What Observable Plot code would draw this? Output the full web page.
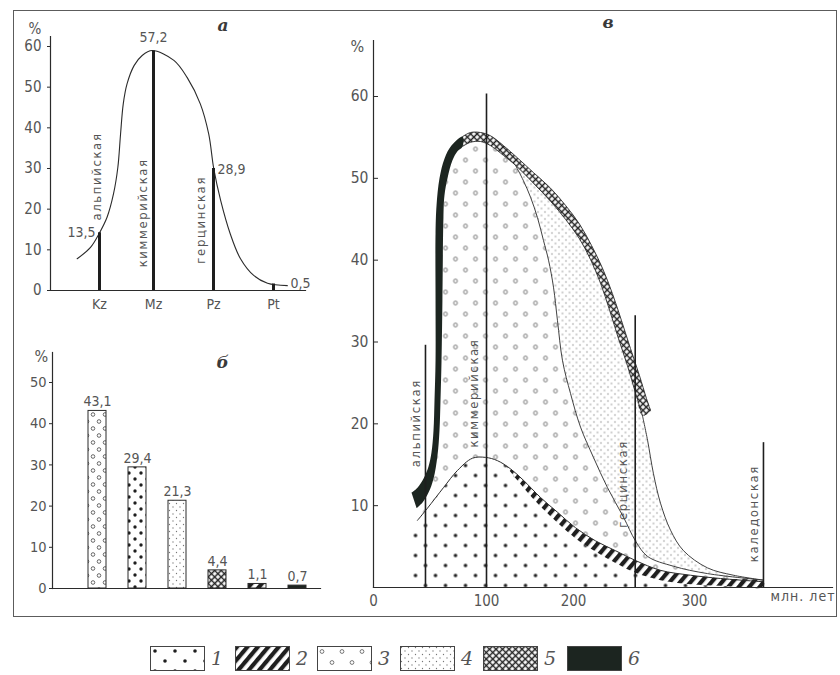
<!DOCTYPE html>
<html><head><meta charset="utf-8">
<script src="https://cdn.jsdelivr.net/npm/d3@7"></script>
<script src="https://cdn.jsdelivr.net/npm/@observablehq/plot@0.6"></script>
<style>
html,body{margin:0;padding:0;background:#fff;}
#wrap{position:relative;width:840px;height:675px;overflow:hidden;background:#fff;}
#frame{position:absolute;left:13px;top:10px;width:824px;height:607px;border:1.5px solid #5c5c5c;box-sizing:border-box;pointer-events:none;}
.panel{position:absolute;}
.sw{position:absolute;top:646px;}
.num{position:absolute;top:646px;font-family:"DejaVu Serif","Liberation Serif",serif;font-style:italic;font-size:19px;line-height:25px;color:#555;}
</style></head>
<body>
<svg width="0" height="0" style="position:absolute;left:0;top:0" aria-hidden="true">
<defs>
<pattern id="p1" patternUnits="userSpaceOnUse" width="20" height="20">
<rect width="20" height="20" fill="#fff"/>
<circle cx="5" cy="5" r="1.8" fill="#1f1f1f"/>
<circle cx="15" cy="15" r="1.8" fill="#1f1f1f"/>
</pattern>
<pattern id="q1" patternUnits="userSpaceOnUse" width="12" height="12">
<rect width="12" height="12" fill="#fff"/>
<circle cx="3" cy="3" r="1.7" fill="#1f1f1f"/>
<circle cx="9" cy="9" r="1.7" fill="#1f1f1f"/>
</pattern>
<pattern id="p2" patternUnits="userSpaceOnUse" width="8" height="8" patternTransform="rotate(40)">
<rect width="8" height="8" fill="#fff"/>
<rect width="4.2" height="8" fill="#1f1f1f"/>
</pattern>
<pattern id="p3" patternUnits="userSpaceOnUse" width="20" height="22">
<rect width="20" height="22" fill="#fff"/>
<circle cx="5" cy="5.5" r="1.9" fill="none" stroke="#666" stroke-width="0.9"/>
<circle cx="15" cy="16.5" r="1.9" fill="none" stroke="#666" stroke-width="0.9"/>
</pattern>
<pattern id="q3" patternUnits="userSpaceOnUse" width="12" height="14">
<rect width="12" height="14" fill="#fff"/>
<circle cx="3" cy="3.5" r="1.8" fill="none" stroke="#555" stroke-width="0.9"/>
<circle cx="9" cy="10.5" r="1.8" fill="none" stroke="#555" stroke-width="0.9"/>
</pattern>
<pattern id="p4" patternUnits="userSpaceOnUse" width="7" height="7">
<rect width="7" height="7" fill="#fff"/>
<circle cx="1.5" cy="1.5" r="0.65" fill="#777"/>
<circle cx="5" cy="5" r="0.65" fill="#777"/>
</pattern>
<pattern id="p5" patternUnits="userSpaceOnUse" width="4.6" height="4.6" patternTransform="rotate(45)">
<rect width="4.6" height="4.6" fill="#fff"/>
<path d="M0,2.3H4.6M2.3,0V4.6" stroke="#222" stroke-width="1.5"/>
</pattern>
<pattern id="p6" patternUnits="userSpaceOnUse" width="10" height="10">
<rect width="10" height="10" fill="#1c2520"/>
</pattern>
</defs></svg>
<div id="wrap">
  <div id="pa" class="panel" style="left:0;top:0"></div>
  <div id="pb" class="panel" style="left:0;top:320px"></div>
  <div id="pc" class="panel" style="left:340px;top:0"></div>
  <div id="legend"></div>
  <div id="frame"></div>
</div>
<script>
// ---------------- data ----------------
// Panel а: share by era
const eraPos = [1, 2, 3, 4];
const eraNames = ["Kz", "Mz", "Pz", "Pt"];
const eraBarTop = [14.2, 58.9, 30.0, 1.6];          // bar heights as drawn
const eraValueText = ["13,5", "57,2", "28,9", "0,5"]; // printed values
const curveAx = [0.615, 0.845, 0.99, 1.14, 1.26, 1.34, 1.39, 1.44, 1.51, 1.64, 1.79, 1.976, 2.34, 2.56, 2.78, 2.92, 3.005, 3.12, 3.28, 3.45, 3.67, 3.90, 4.23];
const curveAy = [7.8, 10.6, 13.9, 18.0, 23.8, 30.3, 38.5, 45.9, 50.8, 55.3, 57.8, 59.0, 56.6, 52.4, 45.9, 38.5, 29.9, 22.1, 13.9, 7.8, 3.7, 1.8, 1.2];
const orogenyA = ["альпийская", "киммерийская", "герцинская"];

// Panel б: shares by legend category
const shareKeys = [3, 1, 4, 5, 2, 6];
const shareValues = [43.1, 29.4, 21.3, 4.4, 1.1, 0.7];
const shareText = ["43,1", "29,4", "21,3", "4,4", "1,1", "0,7"];

// Panel в: region boundaries [млн. лет, %]
const orogenyB = ["альпийская", "киммерийская", "герцинская", "каледонская"];
const orogenyAge = [46, 100, 251, 357];
const orogenyTop = [29.6, 60.3, 33.2, 17.7];
const outer6 = [[33.6,11.6],[38.9,12.2],[44.2,13.3],[48.7,14.8],[51.3,16.5],[53.1,19.2],[54.0,22.9],[54.9,27.7],[54.9,35.1],[54.9,43.3],[55.8,46.7],[58.4,50.0],[62.8,52.4],[69.0,54.0],[78.8,55.1]];
const inner6 = [[38.1,9.7],[43.4,10.4],[48.7,11.6],[53.1,13.3],[56.6,16.1],[58.4,19.2],[59.3,22.9],[60.2,27.7],[61.0,35.1],[61.9,45.2],[62.8,47.9],[65.5,50.0],[69.9,52.2],[74.3,53.3],[78.8,53.9]];
const outer5 = [[78.8,55.1],[85.8,55.6],[94.7,55.6],[104.6,55.2],[119.5,54.0],[135.6,52.5],[154.0,50.7],[173.6,48.8],[190.8,46.7],[205.0,44.4],[214.9,41.8],[224.0,39.0],[232.2,35.9],[239.7,32.6],[247.1,29.2],[254.5,25.9],[260.3,23.1],[263.6,21.6]];
const inner5 = [[78.8,53.9],[85.8,54.4],[94.7,54.5],[104.6,54.0],[119.5,52.8],[133.3,51.6],[154.0,49.4],[173.6,47.2],[190.8,45.0],[205.0,42.6],[214.0,40.1],[222.3,37.2],[229.8,33.9],[237.2,30.4],[244.6,27.1],[251.2,23.8],[257.0,21.0]];
const c3 = [[133.3,51.6],[142.5,49.7],[150.6,47.7],[158.6,45.2],[165.5,42.4],[171.3,40.0],[177.0,36.7],[181.6,32.6],[187.4,27.7],[196.6,23.7],[205.8,19.6],[216.5,15.9],[228.1,12.2],[241.3,8.6],[251.2,5.7],[261.2,3.8],[282.6,2.6],[310.7,1.7],[357.0,0.9]];
const c4 = [[257.0,21.0],[261.2,18.0],[266.1,13.9],[271.9,10.3],[280.2,7.0],[290.9,4.5],[310.7,2.4],[332.2,1.5],[357.0,0.9]];
const l1top = [[38.9,8.2],[47.8,9.7],[61.9,12.2],[74.3,14.3],[87.6,15.8],[99.1,15.9],[112.6,15.5],[127.6,14.5],[142.5,13.1],[162.1,11.0],[181.6,9.2],[201.7,7.3],[218.2,5.7],[234.7,4.5],[251.2,3.3],[271.9,2.1],[296.7,1.5],[321.5,1.1],[357.0,0.7]];
const l1bot = [[121.8,14.9],[142.5,12.2],[162.1,9.9],[181.6,7.9],[201.7,6.0],[218.2,4.4],[234.7,3.0],[251.2,1.8],[271.9,0.9],[296.7,0.4],[321.5,0.2],[357.0,0.1]];
const startAge = 32.7;

const legendKeys = [1, 2, 3, 4, 5, 6];

// ---------------- style ----------------
const FONT = '"DejaVu Sans Condensed","DejaVu Sans","Liberation Sans Narrow",sans-serif';
const SERIF = '"DejaVu Serif","Liberation Serif",serif';
const INK = "#2b2b2b", TXT = "#555";
const PAT = k => `url(#p${k})`;
const BARPAT = k => (k === 1 || k === 3) ? `url(#q${k})` : `url(#p${k})`;
const baseStyle = {background: "transparent", color: TXT, fontFamily: FONT, overflow: "visible"};
const letterOpts = {fontSize: 17, fontFamily: SERIF, fontStyle: "italic", fontWeight: "bold", fill: "#3a3a3a"};

function spaced(svg, names, ls) {
  svg.querySelectorAll("text").forEach(t => {
    if (names.includes(t.textContent.trim())) t.style.letterSpacing = ls;
  });
}

// ---------------- panel а ----------------
const curveA = curveAx.map((x, i) => ({x, y: curveAy[i]}));
const barsA = eraPos.map((x, i) => ({x, top: eraBarTop[i], t: eraValueText[i]}));
const labA = [
  {x: 1, y: 17.2, dx: -2.3}, {x: 2, y: 5.7, dx: -11}, {x: 3, y: 6.6, dx: -13}
];
const plotA = Plot.plot({
  width: 340, height: 320,
  marginLeft: 50, marginRight: 35, marginTop: 36, marginBottom: 30,
  x: {type: "linear", domain: [0, 1, 2, 3, 4, 5], range: [41, 99, 153, 213, 273, 333]},
  y: {domain: [0, 60], range: [290, 46]},
  style: baseStyle,
  marks: [
    Plot.frame({anchor: "left", stroke: INK, strokeWidth: 1.2}),
    Plot.frame({anchor: "bottom", stroke: INK, strokeWidth: 1.2}),
    Plot.axisY({ticks: [0, 10, 20, 30, 40, 50, 60], tickSize: 3, tickPadding: 6, fontSize: 15, label: null, stroke: INK}),
    Plot.axisX({ticks: eraPos, tickFormat: d => eraNames[eraPos.indexOf(d)], tickSize: 0, tickPadding: 9, fontSize: 14, label: null}),
    Plot.line(curveA, {x: "x", y: "y", curve: "catmull-rom", stroke: INK, strokeWidth: 1.1}),
    Plot.ruleX(barsA, {x: "x", y1: 0, y2: "top", stroke: "#1e1e1e", strokeWidth: 3}),
    Plot.text([barsA[0]], {x: "x", y: "top", text: "t", textAnchor: "end", dx: -4, fontSize: 14}),
    Plot.text([barsA[1]], {x: "x", y: "top", text: "t", dy: -13, fontSize: 14}),
    Plot.text([barsA[2]], {x: "x", y: "top", text: "t", textAnchor: "start", dx: 4, dy: 1, fontSize: 14}),
    Plot.text([barsA[3]], {x: "x", y: "top", text: "t", textAnchor: "start", dx: 17, fontSize: 14}),
    ...labA.map((l, i) => Plot.text([{x: l.x, y: l.y, t: orogenyA[i]}], {x: "x", y: "y", text: "t", rotate: -90, textAnchor: "start", dx: l.dx, fontSize: 13})),
    Plot.text(["%"], {text: d => d, frameAnchor: "top-left", dx: -22, dy: -13, fontSize: 15}),
    Plot.text(["а"], {text: d => d, frameAnchor: "top-left", dx: 167, dy: -18, ...letterOpts})
  ]
});
spaced(plotA, orogenyA, "1.6px");
document.getElementById("pa").append(plotA);

// ---------------- panel б ----------------
const shares = shareKeys.map((k, i) => ({k, v: shareValues[i], t: shareText[i]}));
const plotB = Plot.plot({
  width: 340, height: 300,
  marginLeft: 52, marginRight: 20, marginTop: 32, marginBottom: 32,
  x: {type: "band", domain: shareKeys, range: [74.6, 318.8], paddingInner: 0.56, paddingOuter: 0.28, align: 0.5, axis: null},
  y: {domain: [0, 50], range: [268, 62]},
  color: {type: "identity"},
  style: baseStyle,
  marks: [
    Plot.barY(shares, {x: "k", y: "v", fill: d => BARPAT(d.k), stroke: INK, strokeWidth: 1}),
    Plot.frame({anchor: "left", stroke: INK, strokeWidth: 1.2}),
    Plot.frame({anchor: "bottom", stroke: INK, strokeWidth: 1.2}),
    Plot.axisY({ticks: [0, 10, 20, 30, 40, 50], tickSize: 3, tickPadding: 3, fontSize: 14.5, label: null, stroke: INK}),
    Plot.text(shares, {x: "k", y: "v", text: "t", dy: -9, fontSize: 14}),
    Plot.text(["%"], {text: d => d, frameAnchor: "top-left", dx: -18, dy: -2, fontSize: 16}),
    Plot.text(["б"], {text: d => d, frameAnchor: "top-left", dx: 164, dy: 3, ...letterOpts})
  ]
});
document.getElementById("pb").append(plotB);

// ---------------- panel в ----------------
const P = pts => pts.map(([x, y]) => ({x, y}));
const bandStart = l1bot[0][0];
const R1 = [[startAge, 0], [startAge, 7.6], ...l1top.filter(p => p[0] < bandStart), ...l1bot, [l1bot[l1bot.length - 1][0], 0]];
const R2 = [l1bot[0], ...l1top.filter(p => p[0] > bandStart), ...l1bot.slice().reverse()];
const R3 = [...inner6, ...inner5.slice(1, 6), ...c3.slice(1), ...l1top.slice().reverse()];
const R4 = [...inner5.slice(5), ...c4.slice(1), ...c3.slice().reverse()];
const R5 = [...outer5, ...inner5.slice().reverse()];
const R6 = [...outer6, ...inner6.slice().reverse()];
const poly = (pts, k) => Plot.line(P(pts), {x: "x", y: "y", fill: PAT(k), stroke: "none", curve: "catmull-rom"});
const edge = (pts, w) => Plot.line(P(pts), {x: "x", y: "y", stroke: INK, strokeWidth: w, curve: "catmull-rom"});
const rulesB = orogenyAge.map((x, i) => ({x, top: orogenyTop[i]}));
const labB = [
  {y: 14.7, dx: -10}, {y: 17.1, dx: -13}, {y: 7.3, dx: -12}, {y: 3.1, dx: -10}
];
const plotC = Plot.plot({
  width: 500, height: 620,
  marginLeft: 33, marginRight: 8, marginTop: 40, marginBottom: 33,
  x: {type: "linear", domain: [0, 100, 200, 300, 400], range: [33, 146, 233, 354, 475]},
  y: {domain: [0, 60], range: [587, 96]},
  style: baseStyle,
  marks: [
    poly(R3, 3),
    poly(R4, 4),
    poly(R1, 1),
    poly(R2, 2),
    poly(R5, 5),
    poly(R6, 6),
    edge(l1top, 1),
    edge(c3, 0.9),
    edge(c4, 0.9),
    edge(outer5, 0.9),
    edge(inner5, 0.9),
    Plot.ruleX(rulesB, {x: "x", y1: 0, y2: "top", stroke: "#1e1e1e", strokeWidth: 1.6}),
    Plot.frame({anchor: "left", stroke: INK, strokeWidth: 1.2}),
    Plot.frame({anchor: "bottom", stroke: INK, strokeWidth: 1.2}),
    Plot.axisY({ticks: [10, 20, 30, 40, 50, 60], tickSize: -5, tickPadding: 10, fontSize: 15.5, label: null, stroke: INK}),
    Plot.axisX({ticks: [0, 100, 200, 300], tickSize: 0, tickPadding: 8, fontSize: 15, label: null}),
    ...labB.map((l, i) => Plot.text([{x: orogenyAge[i], y: l.y, t: orogenyB[i]}], {x: "x", y: "y", text: "t", rotate: -90, textAnchor: "start", dx: l.dx, fontSize: 13})),
    Plot.text(["млн. лет"], {text: d => d, frameAnchor: "bottom-right", textAnchor: "end", dx: 3, dy: 13, fontSize: 14}),
    Plot.text(["%"], {text: d => d, frameAnchor: "top-left", dx: -23, dy: 0, fontSize: 16}),
    Plot.text(["в"], {text: d => d, frameAnchor: "top-left", dx: 229, dy: -25, ...letterOpts})
  ]
});
spaced(plotC, orogenyB, "1.6px");
spaced(plotC, ["млн. лет"], "1px");
document.getElementById("pc").append(plotC);

// ---------------- legend ----------------
const legend = document.getElementById("legend");
const swLeft = [150, 235, 317, 400, 483, 567];
legendKeys.forEach((k, i) => {
  const ns = "http://www.w3.org/2000/svg";
  const s = document.createElementNS(ns, "svg");
  s.setAttribute("width", 56); s.setAttribute("height", 26);
  s.setAttribute("class", "sw");
  s.style.left = swLeft[i] + "px";
  const r = document.createElementNS(ns, "rect");
  r.setAttribute("x", 0.5); r.setAttribute("y", 0.5); r.setAttribute("width", 54); r.setAttribute("height", 24);
  r.setAttribute("fill", PAT(k)); r.setAttribute("stroke", "#444"); r.setAttribute("stroke-width", 1);
  s.append(r);
  legend.append(s);
  const n = document.createElement("div");
  n.className = "num"; n.textContent = String(k);
  n.style.left = (swLeft[i] + 61) + "px";
  legend.append(n);
});
</script>
</body></html>
